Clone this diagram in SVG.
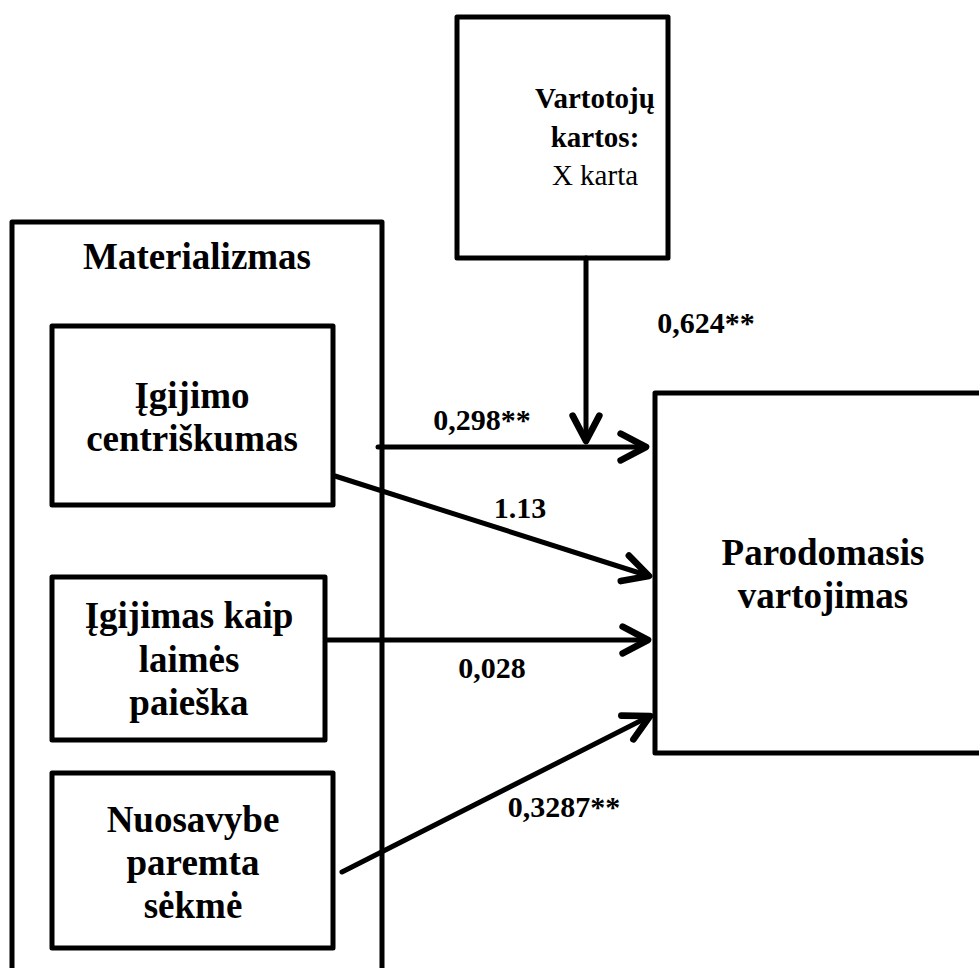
<svg xmlns="http://www.w3.org/2000/svg" width="979" height="968" viewBox="0 0 979 968">
<defs>
<style>
.box{fill:#fff;stroke:#000;stroke-width:5;stroke-linejoin:round}
.ln{stroke:#000;stroke-width:5;fill:none;stroke-linecap:round}
.t{font-family:"Liberation Serif","Times New Roman",serif;font-weight:bold;text-anchor:middle;fill:#000}
.n{font-weight:normal}
.big{font-size:37px}
.mid{font-size:29px}
.lab{font-size:30px}
</style>
<marker id="ah" markerUnits="userSpaceOnUse" markerWidth="40" markerHeight="40" viewBox="-25 -15 30 30" refX="0" refY="0" orient="auto">
<path d="M-19,-10 L0,0 L-19,10" fill="none" stroke="#000" stroke-width="5" stroke-linecap="round" stroke-linejoin="round"/>
</marker>
</defs>
<rect width="979" height="968" fill="#fff"/>
<g id="materializmas">
<rect class="box" x="12" y="222" width="370" height="760"/>
<text class="t big" x="197" y="269">Materializmas</text>
</g>
<g id="vartotoju-kartos">
<rect class="box" x="457" y="17" width="211" height="241"/>
<text class="t mid" x="595" y="108">Vartotojų</text>
<text class="t mid" x="595" y="147">kartos:</text>
<text class="t mid n" x="595" y="185">X karta</text>
</g>
<g id="igijimo-centriskumas">
<rect class="box" x="52" y="326" width="281" height="179"/>
<text class="t big" x="192" y="408">Įgijimo</text>
<text class="t big" x="192" y="451">centriškumas</text>
</g>
<g id="igijimas-kaip-laimes-paieska">
<rect class="box" x="52" y="577" width="273" height="163"/>
<text class="t big" x="189" y="628">Įgijimas kaip</text>
<text class="t big" x="189" y="672">laimės</text>
<text class="t big" x="189" y="715">paieška</text>
</g>
<g id="nuosavybe-paremta-sekme">
<rect class="box" x="52" y="773" width="281" height="175"/>
<text class="t big" x="193" y="832">Nuosavybe</text>
<text class="t big" x="193" y="875">paremta</text>
<text class="t big" x="193" y="918">sėkmė</text>
</g>
<g id="parodomasis-vartojimas">
<rect class="box" x="655" y="393" width="340" height="360"/>
<text class="t big" x="823" y="565">Parodomasis</text>
<text class="t big" x="823" y="608">vartojimas</text>
</g>
<g id="connectors">
<line class="ln" x1="586" y1="258" x2="586" y2="441" marker-end="url(#ah)"/>
<line class="ln" x1="378" y1="447" x2="646" y2="447" marker-end="url(#ah)"/>
<line class="ln" x1="335" y1="476" x2="649" y2="576" marker-end="url(#ah)"/>
<line class="ln" x1="328" y1="640" x2="648" y2="640" marker-end="url(#ah)"/>
<line class="ln" x1="342" y1="872" x2="650" y2="716" marker-end="url(#ah)"/>
<text class="t lab" x="706" y="333">0,624**</text>
<text class="t lab" x="482" y="430">0,298**</text>
<text class="t lab" x="520" y="518">1.13</text>
<text class="t lab" x="492" y="678">0,028</text>
<text class="t lab" x="564" y="817">0,3287**</text>
</g>
</svg>
